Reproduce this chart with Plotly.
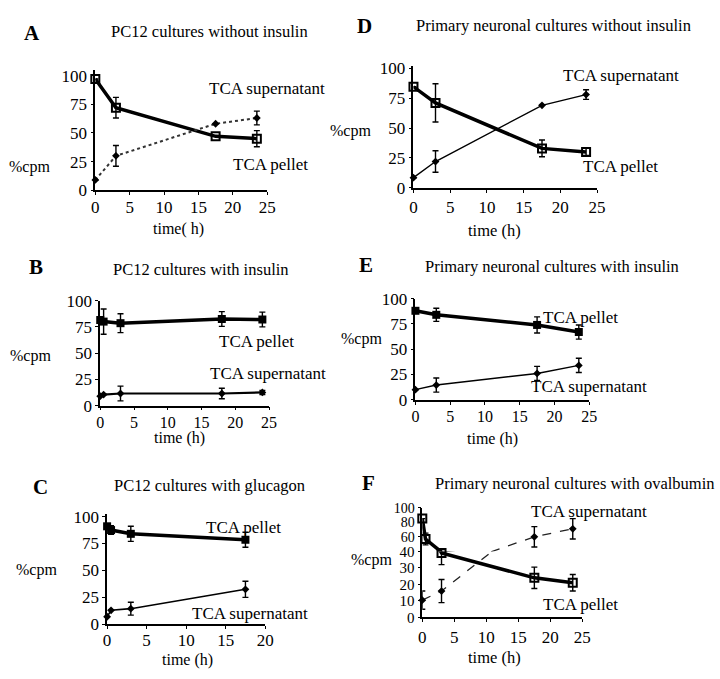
import plotly.graph_objects as go

W, H = 720, 679
FONT = "Liberation Serif"

# ---- values (%cpm vs time in h) ----
# A  PC12 cultures without insulin
a_time = [0, 3, 17.5, 23.5]
a_pellet = [97, 72, 47, 45]
a_pellet_err = [0, 9, 0, 7]
a_super = [9, 30, 58, 63]
a_super_err = [0, 9, 0, 6]

# B  PC12 cultures with insulin
b_time = [0, 0.5, 3, 18, 24]
b_pellet = [81.5, 80, 78.5, 82.5, 82]
b_pellet_err = [0, 12, 9, 7, 7]
b_super = [9, 10.5, 11.5, 11.5, 12.5]
b_super_err = [0, 0, 7, 5, 2]

# C  PC12 cultures with glucagon
c_time = [0, 0.5, 3, 17.5]
c_pellet = [91, 87.5, 84, 78.5]
c_pellet_err = [0, 4, 7, 7]
c_super = [7, 13, 14.5, 32.5]
c_super_err = [0, 0, 6, 7.5]

# D  Primary neuronal cultures without insulin
d_time = [0, 3, 17.5, 23.5]
d_pellet = [84.5, 71, 33, 30]
d_pellet_err = [0, 16, 7, 3]
d_super = [8.5, 22, 69, 78]
d_super_err = [0, 9, 0, 4]

# E  Primary neuronal cultures with insulin
e_time = [0, 3, 17.5, 23.5]
e_pellet = [88, 84, 74, 67]
e_pellet_err = [0, 6.5, 8, 7]
e_super = [10, 14.5, 26, 34]
e_super_err = [0, 7, 7, 7]

# F  Primary neuronal cultures with ovalbumin (broken y axis in the original)
f_time = [0, 0.5, 3, 17.5, 23.5]
f_pellet = [85, 57, 39, 24, 21]
f_pellet_err = [0, 8, 7, 6.5, 5]
f_super_time = [0, 3, 17.5, 23.5]
f_super = [10.5, 16, 60, 71]
f_super_err = [5.5, 7, 14, 14]

x_ticks_25 = [0, 5, 10, 15, 20, 25]
x_ticks_20 = [0, 5, 10, 15, 20]
y_ticks = [0, 25, 50, 75, 100]
f_low_ticks = [0, 10, 20, 30, 40]
f_high_ticks = [60, 80, 100]


def px_x(l, r):
    return [l / W, r / W]


def px_y(top, bottom):
    return [1 - bottom / H, 1 - top / H]


def axis(rng, domain, tickvals, anchor, show=True, fsize=17, standoff=0):
    return dict(range=rng, domain=domain, tickvals=tickvals, anchor=anchor,
                ticks='outside', ticklen=3, tickwidth=1.3, tickcolor='black',
                showline=True, linecolor='black', linewidth=1.6,
                showgrid=False, zeroline=False, visible=show,
                ticklabelstandoff=standoff,
                tickfont=dict(family=FONT, size=fsize, color='black'))


fig = go.Figure()


def add_series(n, t, y, err, line, marker, clip=False):
    fig.add_trace(go.Scatter(
        x=t, y=y, mode='lines+markers', xaxis=f'x{n}', yaxis=f'y{n}',
        line=line, marker=marker, cliponaxis=clip, showlegend=False,
        error_y=dict(type='data', array=err, visible=True, color='black',
                     thickness=1.4, width=3)))


thick = dict(color='black', width=3.5)
sq_open = dict(symbol='square-open', size=8, color='black', line=dict(width=2, color='black'))
sq_fill = dict(symbol='square', size=8, color='black')
diamond = dict(symbol='diamond', size=6, color='black')

# A
add_series(1, a_time, a_pellet, a_pellet_err, thick, sq_open)
add_series(1, a_time, a_super, a_super_err, dict(color='#333', width=2, dash='dot'), diamond)
# B
add_series(2, b_time, b_pellet, b_pellet_err, thick, sq_fill)
add_series(2, b_time, b_super, b_super_err, dict(color='black', width=2.2), diamond)
# C
add_series(3, c_time, c_pellet, c_pellet_err, thick, sq_fill)
add_series(3, c_time, c_super, c_super_err, dict(color='black', width=1.6), diamond)
# D
add_series(4, d_time, d_pellet, d_pellet_err, thick, sq_open)
add_series(4, d_time, d_super, d_super_err, dict(color='black', width=1.4), diamond)
# E
add_series(5, e_time, e_pellet, e_pellet_err, thick, sq_fill)
add_series(5, e_time, e_super, e_super_err, dict(color='black', width=1.5), diamond)
# F, drawn on both halves of the broken axis; markers only where they belong
f_line_thin = dict(color='#222', width=1.3, dash='dash')
for n, lo, hi in [(6, 0, 40), (7, 40, 100)]:
    fig.add_trace(go.Scatter(x=f_time, y=f_pellet, mode='lines', line=thick,
                             xaxis=f'x{n}', yaxis=f'y{n}', showlegend=False))
    fig.add_trace(go.Scatter(x=f_super_time, y=f_super, mode='lines', line=f_line_thin,
                             xaxis=f'x{n}', yaxis=f'y{n}', showlegend=False))
    keep = [i for i, v in enumerate(f_pellet) if lo <= v < hi or (hi == 100 and v >= 100)]
    fig.add_trace(go.Scatter(
        x=[f_time[i] for i in keep], y=[f_pellet[i] for i in keep], mode='markers',
        marker=sq_open, cliponaxis=False, xaxis=f'x{n}', yaxis=f'y{n}', showlegend=False,
        error_y=dict(type='data', array=[f_pellet_err[i] for i in keep], color='black',
                     thickness=1.4, width=3)))
    keep = [i for i, v in enumerate(f_super) if lo <= v < hi]
    fig.add_trace(go.Scatter(
        x=[f_super_time[i] for i in keep], y=[f_super[i] for i in keep], mode='markers',
        marker=diamond, cliponaxis=False, xaxis=f'x{n}', yaxis=f'y{n}', showlegend=False,
        error_y=dict(type='data', array=[f_super_err[i] for i in keep], color='black',
                     thickness=1.4, width=3)))

layout_axes = {
    'xaxis': axis([0, 25], px_x(93, 268), x_ticks_25, 'y', standoff=-2),
    'yaxis': axis([0, 105], px_y(62.6, 186.5), y_ticks, 'x'),
    'xaxis2': axis([0, 25], px_x(98, 270), x_ticks_25, 'y2', fsize=16, standoff=-2),
    'yaxis2': axis([0, 100], px_y(300, 408), y_ticks, 'x2'),
    'xaxis3': axis([0, 20], px_x(105, 266), x_ticks_20, 'y3', standoff=-3),
    'yaxis3': axis([0, 102], px_y(520, 633), y_ticks, 'x3'),
    'xaxis4': axis([0, 25], px_x(417, 604), x_ticks_25, 'y4'),
    'yaxis4': axis([0, 102], px_y(58.5, 184), y_ticks, 'x4'),
    'xaxis5': axis([0, 25], px_x(419, 596), x_ticks_25, 'y5', fsize=16, standoff=-2),
    'yaxis5': axis([0, 100], px_y(298, 402), y_ticks, 'x5'),
    'xaxis6': axis([0, 25], px_x(426, 589), x_ticks_25, 'y6'),
    'yaxis6': axis([0, 40], px_y(558, 626), f_low_ticks, 'x6', fsize=15),
    'xaxis7': axis([0, 25], px_x(426, 589), x_ticks_25, 'y7', show=False),
    'yaxis7': axis([40, 100], px_y(513, 558), f_high_ticks, 'x7', fsize=14),
}
fig.update_layout(**layout_axes)

# text: (string, x px, y px, size, bold)
texts = [
    ('A', 29, 25, 21, True), ('PC12 cultures without insulin', 209, 23, 16.5, False),
    ('TCA supernatant', 268, 82, 17, False), ('TCA pellet', 271, 160, 17, False),
    ('%cpm', 26, 163, 16, False), ('time( h)', 178, 226, 16, False),

    ('D', 367, 17, 21, True), ('Primary neuronal cultures without insulin', 560, 17, 16.5, False),
    ('TCA supernatant', 628, 68, 17, False), ('TCA pellet', 628, 162, 17, False),
    ('%cpm', 353, 125, 16, False), ('time (h)', 500, 228, 16.5, False),

    ('B', 33, 265, 21, True), ('PC12 cultures with insulin', 201, 268, 16.5, False),
    ('TCA pellet', 257, 342, 17, False), ('TCA supernatant', 269, 375, 17, False),
    ('%cpm', 27, 357, 16, False), ('time (h)', 179, 441, 16, False),

    ('E', 369, 263, 21, True), ('Primary neuronal cultures with insulin', 558, 265, 16.5, False),
    ('TCA pellet', 587, 317, 17, False), ('TCA supernatant', 596, 388, 17, False),
    ('%cpm', 364, 340, 16, False), ('time (h)', 497, 442, 16, False),

    ('C', 37, 492, 21, True), ('PC12 cultures with glucagon', 209, 490, 16.5, False),
    ('TCA pellet', 244, 533, 17, False), ('TCA supernatant', 251, 622, 17, False),
    ('%cpm', 33, 577, 16, False), ('time (h)', 187, 670, 16, False),

    ('F', 371, 488, 21, True), ('Primary neuronal cultures with ovalbumin', 582, 488, 16.5, False),
    ('TCA supernatant', 596, 517, 17, False), ('TCA pellet', 587, 613, 17, False),
    ('%cpm', 374, 567, 16, False), ('time (h)', 500, 667, 16.5, False),
]
for s, x, y, size, bold in texts:
    fig.add_annotation(text=f'<b>{s}</b>' if bold else s, x=x / W, y=1 - y / H,
                       xref='paper', yref='paper', xanchor='center', yanchor='middle',
                       showarrow=False, font=dict(family=FONT, size=size, color='black'))

fig.update_layout(width=W, height=H, margin=dict(l=0, r=0, t=0, b=0),
                  plot_bgcolor='white', paper_bgcolor='white')

fig.write_html("out.html", config={'displayModeBar': False},
               post_script="document.body.style.margin='0';")
